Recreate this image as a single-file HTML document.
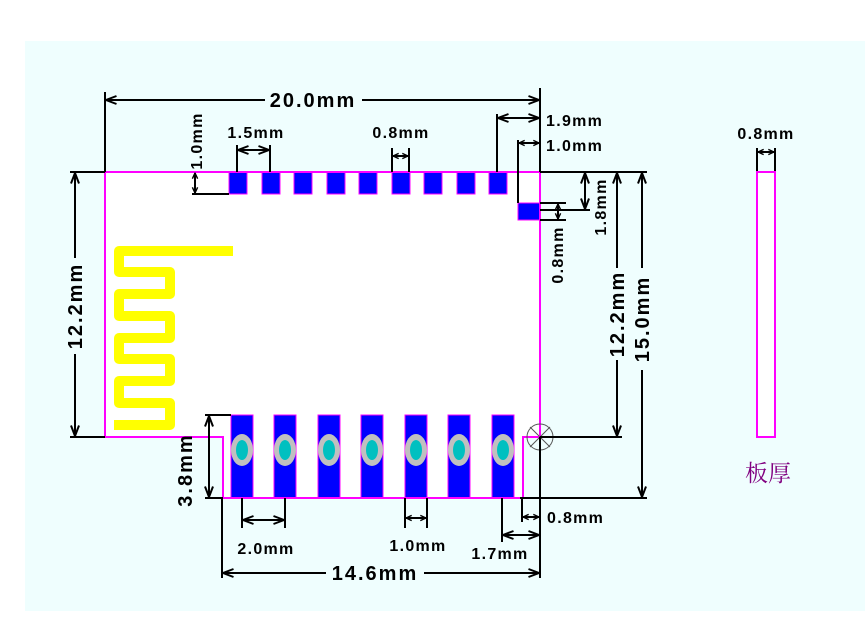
<!DOCTYPE html>
<html><head><meta charset="utf-8"><style>
html,body{margin:0;padding:0;background:#fff;}
svg{display:block;}
text{font-family:"Liberation Sans",sans-serif;font-weight:bold;fill:#000;}
</style></head><body>
<svg width="865" height="643" viewBox="0 0 865 643" xmlns="http://www.w3.org/2000/svg">
<defs>
<marker id="a" viewBox="0 0 12 10" refX="11.5" refY="5" markerWidth="12" markerHeight="10" markerUnits="userSpaceOnUse" orient="auto-start-reverse">
<path d="M1,1 L11.5,5 L1,9" fill="none" stroke="#000" stroke-width="2"/>
</marker>
<marker id="s" viewBox="0 0 8 8" refX="7.5" refY="4" markerWidth="7" markerHeight="7" markerUnits="userSpaceOnUse" orient="auto-start-reverse">
<path d="M1,1 L7.5,4 L1,7" fill="none" stroke="#000" stroke-width="1.6"/>
</marker>
</defs>
<rect x="25" y="41" width="840" height="570" fill="#effefe"/>
<path d="M105,172 H540 V437 H523 V498 H223 V437 H105 Z" fill="#fff"/>
<path d="M233,251 H119 V272 H170 V294 H119 V316 H170 V338 H119 V359 H170 V381 H119 V403 H170 V425 H114" fill="none" stroke="#ffff00" stroke-width="10" stroke-linejoin="round"/>
<g fill="#0000ff" stroke="#ff00ff" stroke-width="1">
<rect x="229" y="172" width="18" height="22"/><rect x="262" y="172" width="18" height="22"/><rect x="294" y="172" width="18" height="22"/>
<rect x="327" y="172" width="18" height="22"/><rect x="359" y="172" width="18" height="22"/><rect x="392" y="172" width="18" height="22"/>
<rect x="424" y="172" width="18" height="22"/><rect x="457" y="172" width="18" height="22"/><rect x="489" y="172" width="18" height="22"/>
<rect x="518" y="203" width="22" height="17"/>
<rect x="231" y="415" width="22" height="83"/><rect x="274" y="415" width="22" height="83"/><rect x="318" y="415" width="22" height="83"/>
<rect x="361" y="415" width="22" height="83"/><rect x="405" y="415" width="22" height="83"/><rect x="448" y="415" width="22" height="83"/>
<rect x="492" y="415" width="22" height="83"/>
</g>
<g>
<g transform="translate(242,450)"><ellipse rx="11" ry="16" fill="#c0c0c0"/><ellipse rx="6" ry="10" fill="#00c0c0"/></g>
<g transform="translate(285,450)"><ellipse rx="11" ry="16" fill="#c0c0c0"/><ellipse rx="6" ry="10" fill="#00c0c0"/></g>
<g transform="translate(329,450)"><ellipse rx="11" ry="16" fill="#c0c0c0"/><ellipse rx="6" ry="10" fill="#00c0c0"/></g>
<g transform="translate(372,450)"><ellipse rx="11" ry="16" fill="#c0c0c0"/><ellipse rx="6" ry="10" fill="#00c0c0"/></g>
<g transform="translate(416,450)"><ellipse rx="11" ry="16" fill="#c0c0c0"/><ellipse rx="6" ry="10" fill="#00c0c0"/></g>
<g transform="translate(459,450)"><ellipse rx="11" ry="16" fill="#c0c0c0"/><ellipse rx="6" ry="10" fill="#00c0c0"/></g>
<g transform="translate(503,450)"><ellipse rx="11" ry="16" fill="#c0c0c0"/><ellipse rx="6" ry="10" fill="#00c0c0"/></g>
</g>
<path d="M105,172 H540 V437 H523 V498 H223 V437 H105 Z" fill="none" stroke="#ff00ff" stroke-width="2"/>
<g stroke="#555" stroke-width="1" fill="none"><circle cx="540" cy="437" r="13"/><path d="M530,427 L550,447 M550,427 L530,447"/></g>

<g stroke="#000" stroke-width="2" fill="none">
<path d="M105,172 V92 M540,172 V88 M70,172 H105 M70,437 H105"/>
<path d="M237,172 V145 M270,172 V145 M392,172 V148 M409,172 V148"/>
<path d="M192,194 H229 M497,172 V114 M518,203 V140"/>
<path d="M540,172 H647 M540,210 H590 M540,203 H566 M540,220 H566 M540,437 H622 M520,498 H647"/>
<path d="M205,415 H231 M205,498 H223"/>
<path d="M242,498 V528 M285,498 V528 M405,498 V528 M427,498 V528 M502,498 V542 M522,498 V522 M222,498 V578 M540,437 V578"/>
<path d="M757,172 V148 M775,172 V148"/>
</g>
<g stroke="#000" stroke-width="2" fill="none">
<line x1="106" y1="100" x2="265" y2="100" marker-start="url(#a)"/>
<line x1="362" y1="100" x2="539" y2="100" marker-end="url(#a)"/>
<line x1="238" y1="150" x2="269" y2="150" marker-start="url(#a)" marker-end="url(#a)"/>
<line x1="393" y1="156" x2="408" y2="156" marker-start="url(#s)" marker-end="url(#s)"/>
<line x1="195" y1="173" x2="195" y2="193" marker-start="url(#s)" marker-end="url(#s)"/>
<line x1="498" y1="118" x2="539" y2="118" marker-start="url(#a)" marker-end="url(#a)"/>
<line x1="519" y1="143" x2="539" y2="143" marker-start="url(#s)" marker-end="url(#s)"/>
<line x1="585" y1="173" x2="585" y2="209" marker-start="url(#a)" marker-end="url(#a)"/>
<line x1="558" y1="204" x2="558" y2="219" marker-start="url(#s)" marker-end="url(#s)"/>
<line x1="617" y1="173" x2="617" y2="268"  marker-start="url(#a)"/>
<line x1="617" y1="360" x2="617" y2="436" marker-end="url(#a)"/>
<line x1="642" y1="173" x2="642" y2="268" marker-start="url(#a)"/>
<line x1="642" y1="370" x2="642" y2="497" marker-end="url(#a)"/>
<line x1="75" y1="173" x2="75" y2="258" marker-start="url(#a)"/>
<line x1="75" y1="354" x2="75" y2="436" marker-end="url(#a)"/>
<line x1="209" y1="416" x2="209" y2="497" marker-start="url(#a)" marker-end="url(#a)"/>
<line x1="243" y1="520" x2="284" y2="520" marker-start="url(#a)" marker-end="url(#a)"/>
<line x1="406" y1="518" x2="426" y2="518" marker-start="url(#s)" marker-end="url(#s)"/>
<line x1="503" y1="535" x2="539" y2="535" marker-start="url(#a)" marker-end="url(#a)"/>
<line x1="523" y1="517" x2="539" y2="517" marker-start="url(#s)" marker-end="url(#s)"/>
<line x1="223" y1="573" x2="326" y2="573" marker-start="url(#a)"/>
<line x1="424" y1="573" x2="539" y2="573" marker-end="url(#a)"/>
<line x1="758" y1="152" x2="774" y2="152" marker-start="url(#s)" marker-end="url(#s)"/>
</g>
<rect x="757" y="172" width="18" height="265" fill="#fff" stroke="#ff00ff" stroke-width="2"/>

<g font-size="20" letter-spacing="2">
<text x="313" y="107" text-anchor="middle">20.0mm</text>
<text x="375" y="580" text-anchor="middle">14.6mm</text>
<text transform="translate(82,306) rotate(-90)" text-anchor="middle">12.2mm</text>
<text transform="translate(624,314) rotate(-90)" text-anchor="middle">12.2mm</text>
<text transform="translate(649,319) rotate(-90)" text-anchor="middle">15.0mm</text>
<text transform="translate(192,470) rotate(-90)" text-anchor="middle">3.8mm</text>
</g>
<g font-size="16" letter-spacing="1.3">
<text x="256" y="138" text-anchor="middle">1.5mm</text>
<text x="401" y="138" text-anchor="middle">0.8mm</text>
<text x="546" y="126">1.9mm</text>
<text x="546" y="151">1.0mm</text>
<text transform="translate(202,141) rotate(-90)" text-anchor="middle">1.0mm</text>
<text transform="translate(606,207) rotate(-90)" text-anchor="middle">1.8mm</text>
<text transform="translate(563,255) rotate(-90)" text-anchor="middle">0.8mm</text>
<text x="266" y="554" text-anchor="middle">2.0mm</text>
<text x="418" y="551" text-anchor="middle">1.0mm</text>
<text x="500" y="559" text-anchor="middle">1.7mm</text>
<text x="547" y="523">0.8mm</text>
<text x="766" y="139" text-anchor="middle">0.8mm</text>
</g>
<text x="768" y="481" text-anchor="middle" font-size="23" style="font-family:'Noto Serif CJK SC','Noto Sans CJK SC',serif;font-weight:normal;fill:#800080">板厚</text>
</svg>
</body></html>
